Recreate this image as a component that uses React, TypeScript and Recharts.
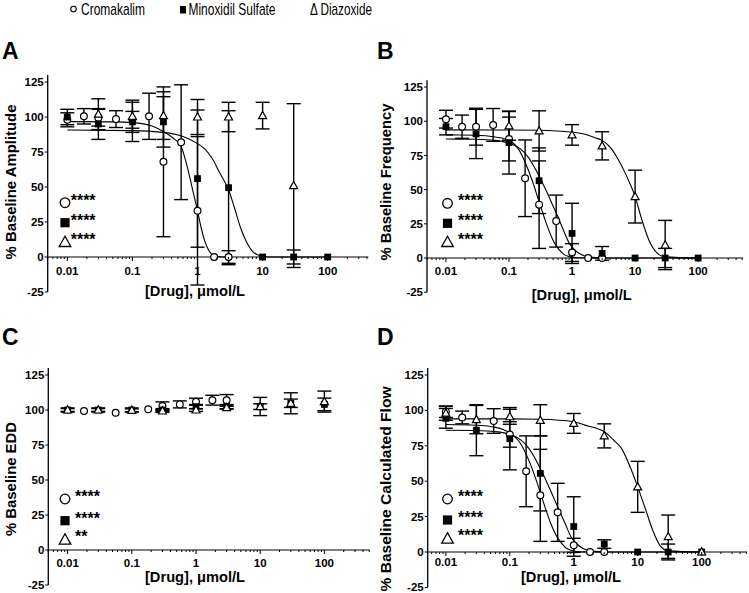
import React from 'react';
import { ComposedChart, Scatter, Line, XAxis, YAxis, ErrorBar, ReferenceLine } from 'recharts';

// rows are [dose µmol/L, % baseline, SEM]
const cromA = [[0.01, 98, 5], [0.018, 100.5, 5.5], [0.03, 99.5, 6], [0.056, 98.5, 6], [0.1, 98, 6], [0.18, 100.5, 16.5], [0.3, 68, 53.5], [0.56, 82, 41], [1, 33, 53], [1.8, 0, 0], [3, 0, 4.5]];
const minoxA = [[0.01, 100, 5.5], [0.03, 95, 11], [0.1, 96.5, 14], [0.3, 96.5, 18], [1, 56, 49], [3, 49.5, 55], [10, 0, 0], [30, 0, 5], [100, 0, 0]];
const diazA = [[0.03, 102, 11], [0.1, 100.5, 11.5], [0.3, 101, 17], [1, 100, 12.5], [3, 100, 10.5], [10, 101, 9.5], [30, 51, 58.5]];

const cromB = [[0.01, 101.5, 6.5], [0.018, 96, 8.5], [0.03, 96, 13.5], [0.056, 97.3, 12], [0.1, 87, 16], [0.18, 58.3, 28], [0.3, 39, 32], [0.56, 27, 19], [1, 4, 6.5], [1.8, 0, 0], [3, 0, 0]];
const minoxB = [[0.01, 96, 6], [0.03, 90.7, 18], [0.1, 84.4, 23], [0.3, 56.5, 24], [1, 18, 22], [3, 3.4, 5], [10, 0, 0], [30, 0, 7], [100, 0, 0]];
const diazB = [[0.1, 96.6, 10.5], [0.3, 92.9, 14.7], [1, 90, 7.5], [3, 82, 10.3], [10, 44.9, 19.3], [30, 9.5, 18]];

const cromC = [[0.018, 99.3, 0], [0.056, 98, 0], [0.18, 100.5, 0], [0.3, 102.8, 3], [0.56, 104, 2.5], [1, 105.9, 2.5], [1.8, 107, 3.5], [3, 107, 4]];
const minoxC = [[0.01, 100, 1.5], [0.03, 100, 1.5], [0.1, 100, 1.5], [0.3, 100, 1], [1, 102.4, 1.5], [3, 102.4, 1.5], [10, 102.5, 6.5], [30, 104.8, 7.5], [100, 104, 4.5]];
const diazC = [[0.01, 100, 1], [0.03, 100, 1], [0.1, 99.8, 1], [0.3, 99.3, 1], [1, 100, 1], [3, 101.7, 1], [10, 102.4, 2], [30, 104.8, 3], [100, 106, 7.5]];

const cromD = [[0.01, 99, 4], [0.018, 95, 4.5], [0.056, 92.5, 8.7], [0.1, 83, 9], [0.18, 57, 25], [0.3, 40, 32.5], [0.56, 28, 20.5], [1, 4.7, 5], [1.8, 0, 0], [3, 0, 0]];
const minoxD = [[0.01, 94.4, 7], [0.03, 86, 18], [0.1, 80, 22], [0.3, 55.5, 26.5], [1, 18, 21], [3, 5.6, 3], [10, 0, 0], [30, 0, 5.6], [100, 0, 0]];
const diazD = [[0.01, 98, 5], [0.03, 93.5, 10], [0.1, 95.5, 5.3], [0.3, 93, 11], [1, 90.8, 7], [3, 82, 8.5], [10, 46, 18], [30, 10.8, 15.3], [100, 0, 0]];

// fitted curves as [dose, %]
const cromFitA = [[0.01, 96.7], [0.05, 96.5], [0.1, 96], [0.2, 93.5], [0.3, 89.5], [0.42, 85], [0.56, 79], [0.7, 64], [0.85, 47], [1, 33], [1.15, 20], [1.3, 11], [1.5, 4.5], [1.8, 1], [2.4, 0], [3, 0]];
const minoxFitA = [[0.01, 90.7], [0.1, 90.3], [0.3, 89], [0.6, 86], [1, 81], [1.3, 77], [1.7, 70], [2.2, 60], [3, 48], [3.7, 35], [4.5, 22], [5.5, 12], [7, 4], [9, 1], [12, 0], [100, 0]];

const cromFitB = [[0.01, 90], [0.03, 89.8], [0.06, 88.5], [0.1, 86], [0.14, 80], [0.18, 70], [0.24, 55], [0.3, 41], [0.36, 30], [0.43, 20], [0.5, 13], [0.6, 7], [0.75, 2.5], [0.9, 1], [1.2, 0.2], [3, 0]];
const minoxFitB = [[0.01, 87], [0.03, 86.8], [0.06, 86], [0.1, 84], [0.15, 80], [0.2, 74], [0.3, 60], [0.4, 48], [0.5, 38], [0.6, 30], [0.75, 19], [0.9, 11], [1.1, 6], [1.4, 2.5], [1.8, 0.8], [3, 0], [100, 0]];
const diazFitB = [[0.01, 93.7], [0.1, 93.6], [0.3, 93.4], [1, 92], [1.6, 90.5], [2.3, 88], [3, 86], [4.2, 80], [5.4, 72], [7.4, 59.5], [10, 45], [12.8, 28], [16.6, 13], [22.6, 3.4], [30, 0.8], [100, 0]];

const cromFitD = [[0.01, 90], [0.03, 89.5], [0.06, 88], [0.1, 84], [0.14, 78], [0.18, 69], [0.24, 55], [0.3, 42], [0.36, 31], [0.43, 21], [0.5, 14], [0.6, 8], [0.75, 3], [0.9, 1.2], [1.2, 0.2], [3, 0]];
const minoxFitD = [[0.01, 86], [0.03, 85.8], [0.06, 85], [0.1, 83], [0.15, 79], [0.2, 73], [0.3, 59], [0.4, 47], [0.5, 37], [0.6, 29], [0.75, 19], [0.9, 11], [1.1, 6], [1.4, 2.5], [1.8, 0.8], [3, 0], [100, 0]];
const diazFitD = [[0.01, 94], [0.1, 94], [0.3, 93.7], [1, 92], [1.5, 89.6], [2.2, 87.5], [3, 85], [4.2, 79], [5.6, 73], [7.8, 59], [10, 46], [13.4, 29.6], [17.1, 15.5], [23, 3.8], [30, 0.8], [100, 0]];

const Y_TICKS = [-25, 0, 25, 50, 75, 100, 125];
const X_MAJOR = [0.01, 0.1, 1, 10, 100];
const Y_DOMAIN: [number, number] = [-25, 130];

const FONT = "'Liberation Sans', Arial, Helvetica, sans-serif";

const xMinorAll: number[] = [];
[0.001, 0.01, 0.1, 1, 10, 100].forEach((d) => {
  for (let m = 2; m <= 9; m++) xMinorAll.push(m * d);
});

const pts = (rows: number[][]) => rows.map(([x, y, e]) => ({ x, y, e: e > 0 ? e : null }));
const curve = (rows: number[][]) => rows.map(([x, y]) => ({ x, y }));

const CircleDot = (p: any) => <circle cx={p.cx} cy={p.cy} r={3.4} fill="#fff" stroke="#000" strokeWidth={1.2} />;
const SquareDot = (p: any) => <rect x={p.cx - 3.4} y={p.cy - 3.4} width={6.8} height={6.8} fill="#000" />;
const TriangleDot = (p: any) => (
  <polygon points={`${p.cx},${p.cy - 4.2} ${p.cx - 4},${p.cy + 3} ${p.cx + 4},${p.cy + 3}`} fill="#fff" stroke="#000" strokeWidth={1.2} />
);

type Box = { x: number; y: number; w: number; h: number };
type Plot = { l: number; t: number; r: number; b: number };

interface PanelProps {
  box: Box;
  plot: Plot;
  xDomain: [number, number];
  tickDy: number;
  crom: number[][];
  minox: number[][];
  diaz: number[][];
  fits: number[][][];
}

const YW = 30;
const XH = 1;

function Panel({ box, plot, xDomain, tickDy, crom, minox, diaz, fits }: PanelProps) {
  const margin = {
    top: plot.t - box.y,
    left: plot.l - box.x - YW,
    right: box.x + box.w - plot.r,
    bottom: box.y + box.h - plot.b - XH,
  };
  const zeroY = plot.t - box.y + ((plot.b - plot.t) * Y_DOMAIN[1]) / (Y_DOMAIN[1] - Y_DOMAIN[0]);
  const ticks = [...X_MAJOR, ...xMinorAll.filter((v) => v >= xDomain[0] && v <= xDomain[1])];

  const renderTick = (p: any) => {
    const v = p.payload.value;
    const major = X_MAJOR.includes(v);
    return (
      <g>
        <line x1={p.x} x2={p.x} y1={zeroY} y2={zeroY + (major ? 4 : 2)} stroke="#000" strokeWidth={1} />
        {major && (
          <text x={p.x} y={zeroY + tickDy} textAnchor="middle" fontSize={11.5} fontWeight={700} fontFamily={FONT} fill="#000">
            {String(v)}
          </text>
        )}
      </g>
    );
  };

  return (
    <div style={{ position: 'absolute', left: box.x, top: box.y, width: box.w, height: box.h }}>
      <ComposedChart width={box.w} height={box.h} margin={margin}>
        <XAxis
          dataKey="x"
          type="number"
          scale="log"
          domain={xDomain}
          allowDataOverflow
          ticks={ticks}
          interval={0}
          tick={renderTick}
          axisLine={false}
          tickLine={false}
          tickSize={0}
          height={XH}
        />
        <YAxis
          type="number"
          domain={Y_DOMAIN}
          allowDataOverflow
          ticks={Y_TICKS}
          interval={0}
          width={YW}
          tickSize={3}
          tickMargin={1}
          axisLine={{ stroke: '#000', strokeWidth: 1.3 }}
          tickLine={{ stroke: '#000', strokeWidth: 1 }}
          tick={{ fill: '#000', fontSize: 11.5, fontWeight: 700, fontFamily: FONT }}
        />
        <ReferenceLine y={0} stroke="#000" strokeWidth={1.2} />
        {fits.map((f, i) => (
          <Line
            key={i}
            data={curve(f)}
            dataKey="y"
            type="monotone"
            stroke="#000"
            strokeWidth={1.1}
            dot={false}
            activeDot={false}
            isAnimationActive={false}
          />
        ))}
        <Scatter data={pts(crom)} dataKey="y" shape={CircleDot} isAnimationActive={false}>
          <ErrorBar dataKey="e" direction="y" width={7} stroke="#000" strokeWidth={1.4} />
        </Scatter>
        <Scatter data={pts(minox)} dataKey="y" shape={SquareDot} isAnimationActive={false}>
          <ErrorBar dataKey="e" direction="y" width={7} stroke="#000" strokeWidth={1.4} />
        </Scatter>
        <Scatter data={pts(diaz)} dataKey="y" shape={TriangleDot} isAnimationActive={false}>
          <ErrorBar dataKey="e" direction="y" width={7} stroke="#000" strokeWidth={1.4} />
        </Scatter>
      </ComposedChart>
    </div>
  );
}

function SigKey({ x, ys, textX, stars }: { x: number; ys: number[]; textX: number; stars: string[] }) {
  const [c, s, t] = ys;
  return (
    <g>
      <circle cx={x} cy={c} r={4.8} fill="#fff" stroke="#000" strokeWidth={1.3} />
      <rect x={x - 4.6} y={s - 4.6} width={9.2} height={9.2} fill="#000" />
      <polygon points={`${x},${t - 5.5} ${x - 5.8},${t + 4.8} ${x + 5.8},${t + 4.8}`} fill="#fff" stroke="#000" strokeWidth={1.3} />
      {stars.map((st, i) => (
        <text key={i} x={textX} y={ys[i] + 3} fontSize={16} fontWeight={700} fontFamily={FONT} fill="#000">
          {st}
        </text>
      ))}
    </g>
  );
}

const YTitle = ({ x, y, len, children }: { x: number; y: number; len: number; children: string }) => (
  <text
    x={x}
    y={y}
    transform={`rotate(-90 ${x} ${y})`}
    textAnchor="middle"
    dominantBaseline="central"
    fontSize={15}
    fontWeight={700}
    fontFamily={FONT}
    fill="#000"
    textLength={len}
    lengthAdjust="spacingAndGlyphs"
  >
    {children}
  </text>
);

const XTitle = ({ x, y }: { x: number; y: number }) => (
  <text x={x} y={y} textAnchor="middle" fontSize={14} fontWeight={700} fontFamily={FONT} fill="#000" textLength={100} lengthAdjust="spacingAndGlyphs">
    [Drug], μmol/L
  </text>
);

const Letter = ({ x, y, children }: { x: number; y: number; children: string }) => (
  <text x={x} y={y} fontSize={23} fontWeight={700} fontFamily={FONT} fill="#000">
    {children}
  </text>
);

export default function App() {
  return (
    <div style={{ position: 'absolute', left: 0, top: 0, width: 749, height: 593, background: '#fff', overflow: 'hidden' }}>
      <Panel box={{ x: 0, y: 30, w: 375, h: 280 }} plot={{ l: 47.7, t: 75, r: 368.3, b: 292 }} xDomain={[0.005, 420]} tickDy={18} crom={cromA} minox={minoxA} diaz={diazA} fits={[cromFitA, minoxFitA]} />
      <Panel box={{ x: 375, y: 30, w: 374, h: 280 }} plot={{ l: 427, t: 80.2, r: 743, b: 292.2 }} xDomain={[0.005, 515]} tickDy={17} crom={cromB} minox={minoxB} diaz={diazB} fits={[cromFitB, minoxFitB, diazFitB]} />
      <Panel box={{ x: 0, y: 320, w: 375, h: 273 }} plot={{ l: 48.3, t: 368, r: 369.8, b: 585 }} xDomain={[0.005, 510]} tickDy={16.5} crom={cromC} minox={minoxC} diaz={diazC} fits={[]} />
      <Panel box={{ x: 375, y: 320, w: 374, h: 273 }} plot={{ l: 427.7, t: 367.9, r: 747, b: 587.4 }} xDomain={[0.0052, 512]} tickDy={14.5} crom={cromD} minox={minoxD} diaz={diazD} fits={[cromFitD, minoxFitD, diazFitD]} />

      <svg width={749} height={593} style={{ position: 'absolute', left: 0, top: 0, pointerEvents: 'none' }}>
        {/* figure legend */}
        <circle cx={73.5} cy={9} r={2.8} fill="#fff" stroke="#000" strokeWidth={1.1} />
        <text x={81} y={15} fontSize={17} fontFamily={FONT} fill="#000" textLength={64} lengthAdjust="spacingAndGlyphs">Cromakalim</text>
        <rect x={180} y={6} width={6} height={7.5} fill="#000" />
        <text x={188.5} y={15} fontSize={17} fontFamily={FONT} fill="#000" textLength={87} lengthAdjust="spacingAndGlyphs">Minoxidil Sulfate</text>
        <text x={310} y={15} fontSize={17} fontFamily={FONT} fill="#000" textLength={62} lengthAdjust="spacingAndGlyphs">Δ Diazoxide</text>

        <Letter x={2} y={58.5}>A</Letter>
        <Letter x={377} y={58.5}>B</Letter>
        <Letter x={2} y={345}>C</Letter>
        <Letter x={377} y={345}>D</Letter>

        <YTitle x={10} y={182} len={155}>% Baseline Amplitude</YTitle>
        <YTitle x={385} y={182} len={157}>% Baseline Frequency</YTitle>
        <YTitle x={10} y={479} len={114}>% Baseline EDD</YTitle>
        <YTitle x={385} y={489} len={205}>% Baseline Calculated Flow</YTitle>

        <XTitle x={195} y={296} />
        <XTitle x={581.7} y={300} />
        <XTitle x={195} y={581.5} />
        <XTitle x={571} y={581.5} />

        <SigKey x={65} ys={[202.7, 222.7, 241.7]} textX={70.7} stars={['****', '****', '****']} />
        <SigKey x={447.5} ys={[203.3, 223.3, 241.7]} textX={458} stars={['****', '****', '****']} />
        <SigKey x={65} ys={[499, 520.7, 539.3]} textX={75} stars={['****', '****', '**']} />
        <SigKey x={447.5} ys={[499, 520, 538.3]} textX={458} stars={['****', '****', '****']} />
      </svg>
    </div>
  );
}
